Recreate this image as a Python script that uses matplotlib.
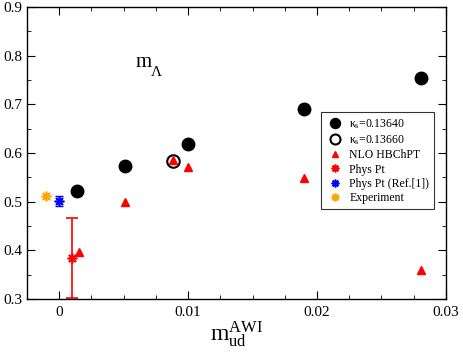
import numpy as np
import matplotlib
matplotlib.use('Agg')
import matplotlib.pyplot as plt
from matplotlib.ticker import MultipleLocator, FuncFormatter

plt.rcParams['font.family'] = ['Liberation Serif', 'DejaVu Serif']
plt.rcParams['mathtext.fontset'] = 'custom'
plt.rcParams['mathtext.rm'] = 'Liberation Serif'
plt.rcParams['mathtext.it'] = 'Liberation Serif'

# kappa_s = 0.13640
x_k1 = [0.0014, 0.0051, 0.0100, 0.0190, 0.0281]
y_k1 = [0.521, 0.574, 0.619, 0.690, 0.755]
# kappa_s = 0.13660
x_k2 = [0.0088]
y_k2 = [0.584]
# NLO HBChPT
x_nlo = [0.0015, 0.0051, 0.0088, 0.0100, 0.0190, 0.0281]
y_nlo = [0.397, 0.500, 0.586, 0.571, 0.549, 0.360]
# physical points
x_phys, y_phys, e_phys = [0.0010], [0.385], [0.082]
x_ref, y_ref, e_ref = [0.0000], [0.501], [0.010]
x_exp, y_exp = [-0.0010], [0.511]

fig = plt.figure(figsize=(4.63, 3.53), dpi=100)
ax = fig.add_axes([0.0583, 0.153, 0.9047, 0.827])

ast = (8, 2, 0)
ax.plot(x_k1, y_k1, 'o', color='black', ms=9, ls='none', label=r'$\kappa_{\rm s}$=0.13640')
ax.plot(x_k2, y_k2, 'o', mfc='none', mec='black', mew=1.5, ms=9, ls='none', label=r'$\kappa_{\rm s}$=0.13660')
ax.plot(x_nlo, y_nlo, '^', color='red', ms=6, ls='none', label='NLO HBChPT')
ax.errorbar(x_phys, y_phys, yerr=e_phys, fmt='none', ecolor='red', elinewidth=1.2, capsize=4, capthick=1.2)
ax.plot(x_phys, y_phys, marker=ast, color='red', mew=1.2, ms=7, ls='none', label='Phys Pt')
ax.errorbar(x_ref, y_ref, yerr=e_ref, fmt='none', ecolor='blue', elinewidth=1, capsize=3)
ax.plot(x_ref, y_ref, marker=ast, color='blue', mew=1.2, ms=7, ls='none', label='Phys Pt (Ref.[1])')
ax.plot(x_exp, y_exp, marker=ast, color='orange', mew=1.2, ms=7, ls='none', label='Experiment')

ax.set_xlim(-0.0025, 0.03)
ax.set_ylim(0.3, 0.9)
ax.xaxis.set_major_locator(MultipleLocator(0.01))
ax.xaxis.set_minor_locator(MultipleLocator(0.0025))
ax.yaxis.set_major_locator(MultipleLocator(0.1))
ax.yaxis.set_minor_locator(MultipleLocator(0.05))
ax.xaxis.set_major_formatter(FuncFormatter(lambda v, p: '0' if abs(v) < 1e-9 else ('%g' % v)))
ax.tick_params(which='both', direction='in', top=True, right=True, labelsize=11)
ax.tick_params(which='major', length=6)
ax.tick_params(which='minor', length=3)
ax.tick_params(axis='x', pad=5)
for s in ax.spines.values():
    s.set_linewidth(1.0)

ax.set_xlabel(r'$\mathrm{m}_{\mathrm{ud}}^{\mathrm{AWI}}$', fontsize=17, labelpad=0)
ax.text(0.0059, 0.776, 'm', fontsize=15)
ax.annotate('Λ', xy=(0.0059, 0.776), xytext=(11, -6), textcoords='offset points', fontsize=11)

leg = ax.legend(loc='upper left', bbox_to_anchor=(0.702, 0.640), borderaxespad=0, fontsize=8.5,
                frameon=True, fancybox=False, edgecolor='black', handletextpad=0.5, labelspacing=0.2,
                borderpad=0.4, handlelength=1.5, numpoints=1, markerscale=0.8)
leg.get_frame().set_linewidth(0.8)

fig.savefig('out.png', dpi=100)
